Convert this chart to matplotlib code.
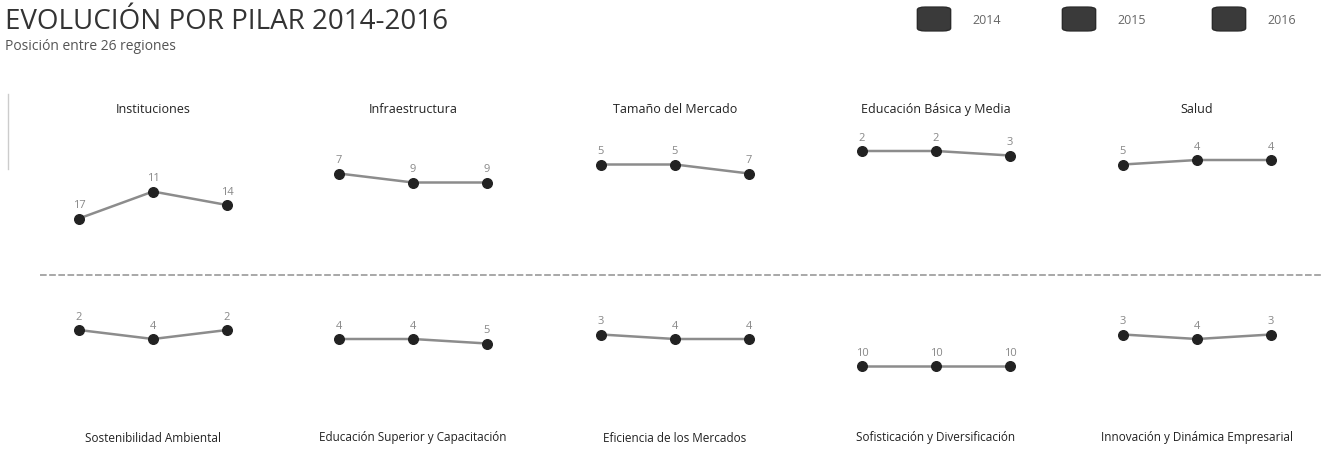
import matplotlib
matplotlib.use("Agg")
import matplotlib.pyplot as plt
from matplotlib.patches import FancyBboxPatch

years = ["2014", "2015", "2016"]

top_pillars = ["Instituciones", "Infraestructura", "Tamaño del Mercado",
               "Educación Básica y Media", "Salud"]
top_ranks = [[17, 11, 14], [7, 9, 9], [5, 5, 7], [2, 2, 3], [5, 4, 4]]

bottom_pillars = ["Sostenibilidad Ambiental", "Educación Superior y Capacitación",
                  "Eficiencia de los Mercados", "Sofisticación y Diversificación",
                  "Innovación y Dinámica Empresarial"]
bottom_ranks = [[2, 4, 2], [4, 4, 5], [3, 4, 4], [10, 10, 10], [3, 4, 3]]

n_regions = 26

W, H = 1322, 460
plt.rcParams['font.family'] = ['Open Sans', 'DejaVu Sans']
fig = plt.figure(figsize=(W / 100, H / 100), dpi=100)
fig.patch.set_facecolor("white")

# column centers (px) and axes geometry
centers = [153, 413, 675, 936, 1197]
px_per_year = 74
ax_w = 2.8 * px_per_year
row_top = [143, 322]          # pixel y of rank 0 per row
px_per_rank = 4.5


def draw_panel(cx, ytop, ranks):
    left = (cx - ax_w / 2) / W
    h = n_regions * px_per_rank
    bottom = 1 - (ytop + h) / H
    ax = fig.add_axes([left, bottom, ax_w / W, h / H])
    ax.set_xlim(-0.4, 2.4)
    ax.set_ylim(n_regions, 0)
    ax.axis("off")
    xs = range(len(years))
    ax.plot(xs, ranks, color="#8c8c8c", lw=1.8, zorder=1, clip_on=False)
    ax.scatter(xs, ranks, s=48, color="#222222", zorder=2, clip_on=False)
    for x, r in zip(xs, ranks):
        ax.annotate(str(r), (x, r), xytext=(0, 10), textcoords="offset points",
                    ha="center", va="center", fontsize=8, color="#888888")
    return ax


for cx, name, r in zip(centers, top_pillars, top_ranks):
    draw_panel(cx, row_top[0], r)
    fig.text(cx / W, 1 - 110 / H, name, ha="center", va="center",
             fontsize=9, color="#222222")

for cx, name, r in zip(centers, bottom_pillars, bottom_ranks):
    draw_panel(cx, row_top[1], r)
    fig.text(cx / W, 1 - 438 / H, name, ha="center", va="center",
             fontsize=8.5, color="#222222")

# separator line
fig.add_artist(plt.Line2D([40 / W, 1], [1 - 276 / H] * 2, color="#9a9a9a",
                          lw=1.2, ls=(0, (4, 1.5))))
# faint left marker
fig.add_artist(plt.Line2D([8 / W] * 2, [1 - 95 / H, 1 - 170 / H],
                          color="#cccccc", lw=1))

# title
fig.text(5 / W, 1 - 29 / H, "EVOLUCIÓN POR PILAR 2014-2016", ha="left",
         va="baseline", fontsize=20, color="#333333")
fig.text(5 / W, 1 - 47 / H, "Posición entre 26 regiones", ha="left",
         va="center", fontsize=10, color="#555555")

# legend
legend_x = [920, 1065, 1215]
for lx, yr in zip(legend_x, years):
    box = FancyBboxPatch(((lx) / W, 1 - 31 / H), 28 / W, 22 / H,
                         boxstyle="round,pad=0.002,rounding_size=0.006",
                         transform=fig.transFigure, facecolor="#3a3a3a",
                         edgecolor="#2a2a2a", lw=1)
    fig.add_artist(box)
    fig.text((lx + 52) / W, 1 - 20 / H, yr, ha="left", va="center",
             fontsize=9, color="#666666")

fig.savefig("out.png", dpi=100, facecolor="white")
